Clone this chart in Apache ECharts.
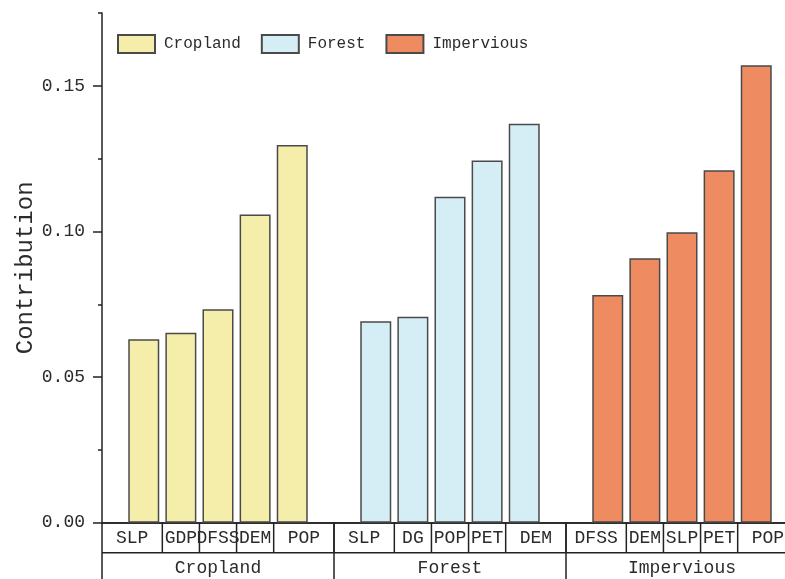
<!DOCTYPE html>
<html>
<head>
<meta charset="utf-8">
<script src="https://cdn.jsdelivr.net/npm/echarts@6/dist/echarts.min.js"></script>
<style>
  html, body { margin: 0; padding: 0; background: #fff; }
  #chart { width: 785px; height: 579px; }
</style>
</head>
<body>
<div id="chart"></div>
<script>
// Land-use groups and the driving factors ranked inside each group
const groups = ['Cropland', 'Forest', 'Impervious'];
const croplandFactors = ['SLP', 'GDP', 'DFSS', 'DEM', 'POP'];
const croplandValues = [0.0630, 0.0652, 0.0733, 0.1058, 0.1297];
const forestFactors = ['SLP', 'DG', 'POP', 'PET', 'DEM'];
const forestValues = [0.0692, 0.0707, 0.1119, 0.1244, 0.1370];
const imperviousFactors = ['DFSS', 'DEM', 'SLP', 'PET', 'POP'];
const imperviousValues = [0.0782, 0.0908, 0.0997, 0.1210, 0.1571];
const yTickLabels = [0, 0.05, 0.10, 0.15];

const factorSets = [croplandFactors, forestFactors, imperviousFactors];
const valueSets = [croplandValues, forestValues, imperviousValues];
const colors = ['#F5EEAB', '#D5EEF5', '#EE8B61'];

// x layout: every group spans GROUP_SPAN units, bars sit one unit apart
const GROUP_SPAN = 6.25;
const FIRST_OFFSET = 1.125;
const xMax = GROUP_SPAN * groups.length;

const FONT = '"Liberation Mono", monospace';
const TEXT_COLOR = '#2b2b2b';
const LINE_COLOR = '#222';

const barSeries = groups.map((g, gi) => ({
  name: g,
  type: 'bar',
  xAxisIndex: 0,
  yAxisIndex: 0,
  barWidth: 31,
  barGap: '-100%',
  itemStyle: { color: colors[gi], borderColor: '#4a4a4a', borderWidth: 1.5 },
  data: valueSets[gi].map((v, i) => [gi * GROUP_SPAN + FIRST_OFFSET + i, v])
}));

// table cells under the axis: factor row (row 0) and group row (row 1)
const cells = [];
groups.forEach((g, gi) => {
  const start = gi * GROUP_SPAN;
  const bounds = [0];
  for (let i = 0; i < 4; i++) bounds.push(FIRST_OFFSET + i + 0.5);
  bounds.push(GROUP_SPAN);
  factorSets[gi].forEach((f, i) => {
    cells.push({ x0: start + bounds[i], x1: start + bounds[i + 1], row: 0, label: f, first: false });
  });
  cells.push({ x0: start, x1: start + GROUP_SPAN, row: 1, label: g, first: gi === 0 });
});

const ROW_H = 30;

const tableSeries = {
  type: 'custom',
  name: 'table',
  xAxisIndex: 0,
  yAxisIndex: 0,
  clip: false,
  silent: true,
  z: 5,
  encode: { x: [0, 1], y: 2 },
  data: cells.map(c => [c.x0, c.x1, 0]),
  renderItem: function (params, api) {
    const c = cells[params.dataIndex];
    const p0 = api.coord([c.x0, 0]);
    const p1 = api.coord([c.x1, 0]);
    const base = p0[1];
    const lineStyle = { stroke: LINE_COLOR, lineWidth: 1.5 };
    const children = [];
    if (c.row === 0) {
      children.push({ type: 'line', shape: { x1: p1[0], y1: base, x2: p1[0], y2: base + ROW_H }, style: lineStyle });
      children.push({
        type: 'text',
        style: {
          text: c.label, x: (p0[0] + p1[0]) / 2, y: base + ROW_H / 2 + 1,
          align: 'center', verticalAlign: 'middle',
          font: '18px ' + FONT, fill: TEXT_COLOR
        }
      });
    } else {
      children.push({ type: 'line', shape: { x1: p0[0], y1: base + ROW_H, x2: p1[0], y2: base + ROW_H }, style: lineStyle });
      children.push({ type: 'line', shape: { x1: p1[0], y1: base, x2: p1[0], y2: base + 2 * ROW_H }, style: lineStyle });
      if (c.first) {
        children.push({ type: 'line', shape: { x1: p0[0], y1: base, x2: p0[0], y2: base + 2 * ROW_H }, style: lineStyle });
      }
      children.push({
        type: 'text',
        style: {
          text: c.label, x: (p0[0] + p1[0]) / 2, y: base + ROW_H + 16,
          align: 'center', verticalAlign: 'middle',
          font: '18px ' + FONT, fill: TEXT_COLOR
        }
      });
    }
    return { type: 'group', children: children };
  }
};

const chart = echarts.init(document.getElementById('chart'), null, { renderer: 'canvas' });
chart.setOption({
  animation: false,
  backgroundColor: '#fff',
  grid: { left: 102, top: 13, width: 696, height: 509.7, containLabel: false, outerBoundsMode: 'none' },
  legend: {
    left: 117,
    top: 34,
    padding: 0,
    itemWidth: 37,
    itemHeight: 18,
    itemGap: 20,
    icon: 'rect',
    data: groups,
    textStyle: { fontFamily: FONT, fontSize: 16, color: TEXT_COLOR, padding: [0, 0, 0, 4] }
  },
  xAxis: [
    {
      type: 'value', position: 'bottom', min: 0, max: xMax,
      axisLine: { show: true, onZero: false, lineStyle: { color: LINE_COLOR, width: 1.5 } },
      axisTick: { show: false }, axisLabel: { show: false }, splitLine: { show: false }
    },
    {
      type: 'value', position: 'top', min: 0, max: xMax,
      axisLine: { show: true, lineStyle: { color: LINE_COLOR, width: 1.5 } },
      axisTick: { show: false }, axisLabel: { show: false }, splitLine: { show: false }
    }
  ],
  yAxis: [
    {
      type: 'value', position: 'left', min: 0, max: 0.175, interval: 0.05,
      name: 'Contribution',
      nameLocation: 'middle',
      nameGap: 64,
      nameMoveOverlap: false,
      nameTextStyle: { fontFamily: FONT, fontSize: 24, color: TEXT_COLOR },
      axisLine: { show: true, lineStyle: { color: LINE_COLOR, width: 1.5 } },
      axisTick: { show: true, length: 9, customValues: yTickLabels, lineStyle: { color: LINE_COLOR, width: 1.5 } },
      axisLabel: {
        customValues: yTickLabels,
        margin: 17,
        fontFamily: FONT, fontSize: 18, color: TEXT_COLOR,
        formatter: v => v.toFixed(2)
      },
      splitLine: { show: false }
    },
    {
      type: 'value', position: 'left', min: 0, max: 0.175, interval: 0.025,
      axisLine: { show: false },
      axisTick: { show: true, length: 4, lineStyle: { color: LINE_COLOR, width: 1.5 } },
      axisLabel: { show: false },
      splitLine: { show: false }
    }
  ],
  series: barSeries.concat([tableSeries])
});
</script>
</body>
</html>
